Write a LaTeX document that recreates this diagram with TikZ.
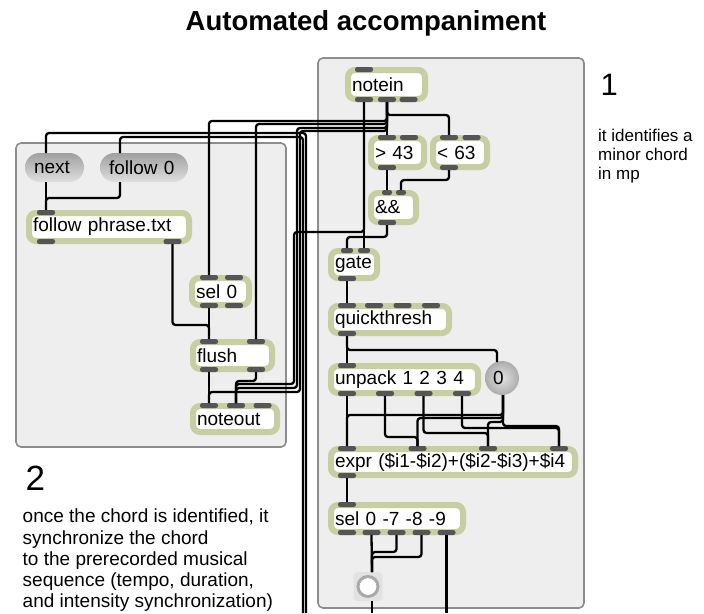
\documentclass[tikz,border=0pt]{standalone}
\usepackage{fontspec}
\setmainfont{Liberation Sans}
\usepackage{tikz}

\definecolor{objgreen}{HTML}{C6CEA2}
\definecolor{tabgray}{HTML}{555555}
\definecolor{panelfill}{HTML}{EEEEEE}
\definecolor{panelline}{HTML}{8C8C8C}
\definecolor{bangbg}{HTML}{E2E2E2}
\definecolor{bangring}{HTML}{A9A9A9}

\newcommand{\boxfont}{\fontsize{19}{22}\selectfont}

% object box: [tab half width]{name}{x1}{y1}{x2}{y2}{inlets}{outlets}{text}
\newcommand{\maxobj}[9][9]{%
  \pgfmathsetmacro{\objtw}{#5-#3-14}%
  \pgfmathsetmacro{\objmh}{#6-#4-6}%
  \node[maxobj, text width=\objtw pt, minimum height=\objmh pt] (#2) at (#3+3,#4+3) {#9};%
  \foreach \px [count=\pn] in {#7} {%
    \fill[port] (\px-#1,#4) rectangle (\px+#1,#4+5);
    \coordinate (#2-i\pn) at (\px,#4);
  }%
  \def\objouts{#8}%
  \ifx\objouts\empty\else
    \foreach \px [count=\pn] in {#8} {%
      \fill[port] (\px-9,#6-5) rectangle (\px+9,#6);
      \coordinate (#2-o\pn) at (\px,#6);
    }%
  \fi
}

\begin{document}
\begin{tikzpicture}[x=1pt, y=-1pt,
    wire/.style={line width=2.3pt, rounded corners=3pt},
    panel/.style={fill=panelfill, draw=panelline, line width=1.6pt, rounded corners=5pt},
    maxobj/.style={draw=objgreen, line width=6pt, fill=white, rounded corners=7pt,
        anchor=north west, inner xsep=4pt, inner ysep=0pt, outer sep=0pt,
        align=left, font=\boxfont},
    port/.style={fill=tabgray, rounded corners=2.2pt},
    msgbox/.style={rounded corners=14.5pt, top color=gray!75, bottom color=gray!25,
        anchor=north west, inner xsep=9pt, inner ysep=0pt, outer sep=0pt,
        minimum height=29pt, align=left, font=\boxfont},
    numbox/.style={circle, minimum size=34pt, inner sep=0pt, inner color=gray!22,
        outer color=gray!65, text width=18pt, align=left, font=\boxfont}]

    \useasboundingbox (0,0) rectangle (704,613);

    % Title
    \node[font=\fontsize{27.5}{30}\selectfont\bfseries, anchor=base] (title)
        at (366,30) {Automated accompaniment};

    % Panels
    \draw[panel] (318,58) rectangle (584,608);
    \draw[panel] (16,143) rectangle (286,447);

    % Chord detection
    \maxobj{notein}{345}{67}{428}{102}{364}{364,387,408.5}{notein}
    \maxobj{gt43}{368}{135}{427}{170}{387,409}{387}{> 43}
    \maxobj{lt63}{430}{135}{490}{170}{449,471.5}{449}{< 63}
    \maxobj[5]{and}{368}{190}{419}{225}{387,401}{387}{\&\&}
    \maxobj[6]{gate}{328}{248}{380}{281}{347,364}{347}{gate}
    \maxobj{qt}{328}{303}{452}{336}{347,374,402.5,431}{347}{quickthresh}
    \maxobj{unpack}{328}{363}{481}{396}{347}{347,385,423.5,462}{unpack 1 2 3 4}
    \maxobj{expr}{328}{446}{578}{478}{347,417.5,488,559}{347}{expr (\$i1-\$i2)+(\$i2-\$i3)+\$i4}
    \maxobj{sel4}{328}{502}{466}{535}{347}{347,371.5,396.5,421.5,446.5}{sel 0 -7 -8 -9}

    \node[numbox] (num) at (502,378) {0};
    \coordinate (num-i1) at (497,362);
    \coordinate (num-o1) at (503,395);

    \node[fill=bangbg, rounded corners=4pt, minimum size=29pt, inner sep=0pt] (bang) at (368,586.5) {};
    \draw[draw=bangring, line width=3pt, fill=white] (bang.center) circle[radius=10pt];
    \coordinate (bang-i1) at (372,572);
    \coordinate (bang-o1) at (372,601);

    % Score follower
    \node[msgbox, text width=41pt] (next) at (25,153) {next};
    \node[msgbox, text width=70pt] (follow0) at (100,153) {follow 0};
    \coordinate (next-i1) at (46,153);
    \coordinate (next-o1) at (46,182);
    \coordinate (follow0-i1) at (120,153);
    \coordinate (follow0-o1) at (120,182);

    \maxobj{ftxt}{26}{210}{192}{244}{46}{46,172.5}{follow phrase.txt}
    \maxobj{sel0}{189}{275}{252}{308}{209,234}{209,234}{sel 0}
    \maxobj{flush}{190}{339}{275}{372}{209,256}{209,256}{flush}
    \maxobj{noteout}{190}{403}{280}{435}{209,236,262.5}{}{noteout}

    % Loose ends below
    \coordinate (nextfeed) at (306,613);
    \coordinate (followfeed) at (303,613);
    \coordinate (bangfeed) at (372,613);
    \coordinate (selfeed) at (446.5,613);

    % Wires from notein
    \draw[wire] (notein-o1) -- (gate-i2);
    \draw[wire] (notein-o1) -- ++(0,130) -| (294,384) -| (noteout-i2);
    \draw[wire] (notein-o2) -- (gt43-i1);
    \draw[wire] (notein-o2) -- ++(0,13) -| (lt63-i1);
    \draw[wire] (notein-o2) -- ++(0,19) -| (sel0-i1);
    \draw[wire] (notein-o2) -- ++(0,22) -| (flush-i2);
    \draw[wire] (notein-o2) -- ++(0,26) -| (297,388) -| (noteout-i2);
    \draw[wire] (notein-o2) -- ++(0,29) -| (300,392) -| (noteout-i1);

    % Wires into the messages
    \draw[wire] (nextfeed) -- (306,133) -| (next-i1);
    \draw[wire] (followfeed) -- (303,137) -| (follow0-i1);

    % Left patch
    \draw[wire] (next-o1) -- (ftxt-i1);
    \draw[wire] (follow0-o1) -- ++(0,16) -| (ftxt-i1);
    \draw[wire] (ftxt-o2) -- ++(0,81) -| (flush-i1);
    \draw[wire] (sel0-o1) -- (flush-i1);
    \draw[wire] (flush-o1) -- (noteout-i1);
    \draw[wire] (flush-o2) -- ++(0,9) -| (noteout-i2);

    % Right patch
    \draw[wire] (gt43-o1) -- (and-i1);
    \draw[wire] (lt63-o1) -- ++(0,10) -| (and-i2);
    \draw[wire] (and-o1) -- ++(0,12) -| (gate-i1);
    \draw[wire] (gate-o1) -- (qt-i1);
    \draw[wire] (qt-o1) -- (unpack-i1);
    \draw[wire] (qt-o1) -- ++(0,14) -| (num-i1);
    \draw[wire] (unpack-o1) -- (expr-i1);
    \draw[wire] (unpack-o2) -- ++(0,41) -| (expr-i2);
    \draw[wire] (unpack-o3) -- ++(0,37) -| (expr-i3);
    \draw[wire] (unpack-o4) -- ++(0,32) -| (expr-i4);
    \draw[wire] (num-o1) -- ++(0,20) -| (expr-i1);
    \draw[wire] (num-o1) -- ++(0,23) -| (expr-i2);
    \draw[wire] (num-o1) -- ++(0,27) -| (expr-i3);
    \draw[wire] (num-o1) -- ++(0,31) -| (expr-i4);
    \draw[wire] (expr-o1) -- (sel4-i1);
    \draw[wire] (sel4-o2) -- (bang-i1);
    \draw[wire] (sel4-o3) -- ++(0,17) -| (bang-i1);
    \draw[wire] (sel4-o4) -- ++(0,22) -| (bang-i1);
    \draw[wire] (bang-o1) -- (bangfeed);
    \draw[wire] (sel4-o5) -- (selfeed);

    % Notes
    \node[font=\fontsize{31}{31}\selectfont, anchor=base west] (num1) at (597,95) {1};
    \node[font=\fontsize{17}{19.2}\selectfont, anchor=north west, align=left, inner sep=0pt]
        (note1) at (598,128.5) {it identifies a\\minor chord\\in mp};
    \node[font=\fontsize{35}{35}\selectfont, anchor=base west] (num2) at (22,490) {2};
    \node[font=\fontsize{19}{21.25}\selectfont, anchor=north west, align=left, inner sep=0pt]
        (note2) at (22.5,509) {once the chord is identified, it\\synchronize the chord\\to the prerecorded musical\\sequence (tempo, duration,\\and intensity synchronization)};

\end{tikzpicture}
\end{document}
